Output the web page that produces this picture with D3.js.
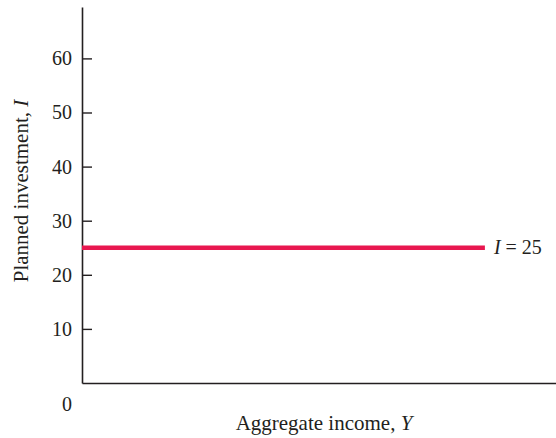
<!DOCTYPE html>
<html>
<head>
<meta charset="utf-8">
<script src="https://cdn.jsdelivr.net/npm/d3@7"></script>
<style>
  html, body { margin: 0; padding: 0; background: #fff; }
  svg { display: block; font-family: "Liberation Serif", "DejaVu Serif", serif; }
</style>
</head>
<body>
<div id="chart"></div>
<script>
// data
const yTicks = [10, 20, 30, 40, 50, 60];
const xDomain = [0, 100];
const yDomain = [0, 69.5];
const investLevel = 25;
const investSpan = [0, 85];   // income range covered by the line
const investLabel = "I = 25";

const width = 556, height = 438;
const m = { top: 7, right: 0, bottom: 55, left: 82 };

const svg = d3.select("#chart").append("svg")
  .attr("width", width)
  .attr("height", height);

const x = d3.scaleLinear().domain(xDomain).range([m.left, width - m.right]);
const y = d3.scaleLinear().domain(yDomain).range([height - m.bottom, m.top]);

const ink = "#231f20";
const fs = 20;

// y axis, ticks point inward
const yAxis = svg.append("g")
  .attr("transform", `translate(${m.left},0)`)
  .call(d3.axisLeft(y).tickValues(yTicks).tickSize(-10).tickSizeOuter(0).tickPadding(10));
yAxis.select(".domain").attr("stroke", ink).attr("stroke-width", 1.6);
yAxis.selectAll(".tick line").attr("stroke", ink).attr("stroke-width", 1.4);
yAxis.selectAll(".tick text")
  .attr("font-family", "Liberation Serif, serif")
  .attr("font-size", fs)
  .attr("fill", ink);

// x axis, no ticks
const xAxis = svg.append("g")
  .attr("transform", `translate(0,${y(0)})`)
  .call(d3.axisBottom(x).tickValues([]).tickSizeOuter(0));
xAxis.select(".domain").attr("stroke", ink).attr("stroke-width", 1.6);

// origin label
svg.append("text")
  .attr("x", m.left - 10)
  .attr("y", y(0) + 28)
  .attr("text-anchor", "end")
  .attr("font-size", fs)
  .attr("fill", ink)
  .text("0");

// investment line
svg.append("line")
  .attr("x1", x(investSpan[0]))
  .attr("x2", x(investSpan[1]))
  .attr("y1", y(investLevel))
  .attr("y2", y(investLevel))
  .attr("stroke", "#e8174f")
  .attr("stroke-width", 4.5);

const lbl = svg.append("text")
  .attr("x", x(investSpan[1]) + 9)
  .attr("y", y(investLevel) + 6)
  .attr("font-size", fs)
  .attr("fill", ink);
lbl.append("tspan").attr("font-style", "italic").text(investLabel.split(" ")[0]);
lbl.append("tspan").text(" " + investLabel.split(" ").slice(1).join(" "));

// axis titles
const xt = svg.append("text")
  .attr("x", 324)
  .attr("y", 430)
  .attr("text-anchor", "middle")
  .attr("font-size", 21)
  .attr("fill", ink);
xt.append("tspan").text("Aggregate income, ");
xt.append("tspan").attr("font-style", "italic").text("Y");

const yt = svg.append("text")
  .attr("transform", `translate(28,191) rotate(-90)`)
  .attr("text-anchor", "middle")
  .attr("font-size", 21)
  .attr("fill", ink);
yt.append("tspan").text("Planned investment, ");
yt.append("tspan").attr("font-style", "italic").text("I");
</script>
</body>
</html>
